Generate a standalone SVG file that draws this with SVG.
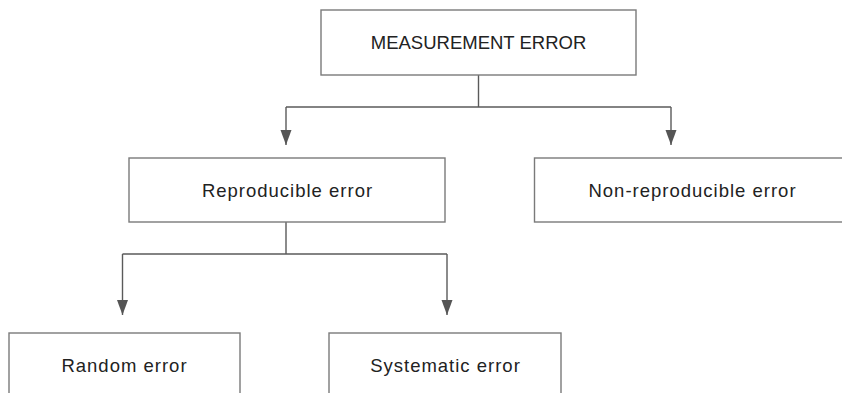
<svg xmlns="http://www.w3.org/2000/svg" width="842" height="393" viewBox="0 0 842 393">
  <defs>
    <style>
      .box { fill: #ffffff; stroke: #7a7a7a; stroke-width: 1.4; }
      .link { fill: none; stroke: #5a5a5a; stroke-width: 1.4; }
      .label { font-family: "Liberation Sans", Arial, sans-serif; font-size: 18.5px; fill: #222222; text-anchor: middle; }
      .lc { letter-spacing: 1px; }
    </style>
    <marker id="arrow" markerUnits="userSpaceOnUse" markerWidth="16" markerHeight="12" viewBox="0 0 16 12" refX="15" refY="6" orient="auto">
      <path d="M0,0.5 L15,6 L0,11.5 Z" fill="#555555"/>
    </marker>
  </defs>
  <rect width="842" height="393" fill="#ffffff"/>

  <g id="connectors">
    <!-- measurement error splits into two classes -->
    <path class="link" d="M478.5,75 V107"/>
    <path class="link" d="M286,107 H671"/>
    <path class="link" d="M286,107 V145" marker-end="url(#arrow)"/>
    <path class="link" d="M671,107 V145" marker-end="url(#arrow)"/>
    <!-- reproducible error splits into random and systematic -->
    <path class="link" d="M286,222 V254"/>
    <path class="link" d="M122.5,254 H447"/>
    <path class="link" d="M122.5,254 V315" marker-end="url(#arrow)"/>
    <path class="link" d="M447,254 V315" marker-end="url(#arrow)"/>
  </g>

  <g id="measurement-error">
    <rect class="box" x="321" y="10" width="315" height="65"/>
    <text class="label" x="478.5" y="48.5">MEASUREMENT ERROR</text>
  </g>

  <g id="reproducible-error">
    <rect class="box" x="129" y="158" width="316" height="64"/>
    <text class="label lc" x="287.5" y="196.5">Reproducible error</text>
  </g>

  <g id="non-reproducible-error">
    <rect class="box" x="534.5" y="158" width="320" height="64"/>
    <text class="label lc" x="692.5" y="196.5">Non-reproducible error</text>
  </g>

  <g id="random-error">
    <rect class="box" x="9" y="333" width="231" height="80"/>
    <text class="label lc" x="124.5" y="372">Random error</text>
  </g>

  <g id="systematic-error">
    <rect class="box" x="329" y="333" width="232" height="80"/>
    <text class="label lc" x="445.5" y="372">Systematic error</text>
  </g>
</svg>
